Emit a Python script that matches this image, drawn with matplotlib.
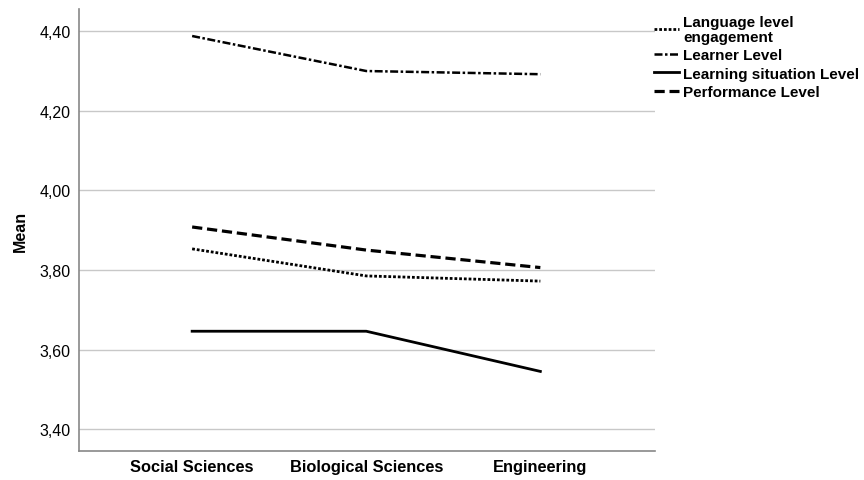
import matplotlib.pyplot as plt

plt.rcParams['font.family'] = ['Liberation Sans', 'DejaVu Sans']

# 数据
categories = ["Social Sciences", "Biological Sciences", "Engineering"]
language_level = [3.853, 3.785, 3.772]
learner_level = [4.388, 4.300, 4.292]
learning_situation = [3.646, 3.646, 3.545]
performance_level = [3.908, 3.850, 3.806]
y_ticks = [3.40, 3.60, 3.80, 4.00, 4.20, 4.40]

fig = plt.figure(figsize=(8.64, 4.81), dpi=100)
ax = fig.add_axes([0.0914, 0.0603, 0.667, 0.919])

x = list(range(len(categories)))
ax.plot(x, language_level, color="black", lw=2.0, linestyle=(0, (1, 0.7)),
        label="Language level\nengagement")
ax.plot(x, learner_level, color="black", lw=1.8, linestyle=(0, (3.2, 1, 1, 1)),
        label="Learner Level")
ax.plot(x, learning_situation, color="black", lw=2.0, linestyle="-",
        label="Learning situation Level")
ax.plot(x, performance_level, color="black", lw=2.3, linestyle=(0, (3.2, 1.5)),
        label="Performance Level")

ax.set_xlim(-0.65, 2.66)
ax.set_ylim(3.345, 4.456)
ax.set_yticks(y_ticks)
ax.set_yticklabels([f"{v:.2f}".replace(".", ",") for v in y_ticks], fontsize=11.5)
ax.set_xticks(x)
ax.set_xticklabels(categories, fontsize=11.8, fontweight="bold")
ax.tick_params(axis="both", length=0, pad=6)
ax.yaxis.grid(True, color="#c8c8c8", lw=1)
ax.set_axisbelow(True)
ax.set_ylabel("Mean", fontsize=11.5, fontweight="bold", labelpad=8)

for side in ["top", "right"]:
    ax.spines[side].set_visible(False)
for side in ["left", "bottom"]:
    ax.spines[side].set_color("#888888")
    ax.spines[side].set_linewidth(1.2)

leg = ax.legend(loc="upper left", bbox_to_anchor=(0.988, 1.0), frameon=False,
                handlelength=1.6, handletextpad=0.3, labelspacing=0.3,
                borderaxespad=0, prop={"size": 11, "weight": "bold"})
for t in leg.get_texts():
    t.set_linespacing(1.05)

fig.savefig("out.png", dpi=100)
